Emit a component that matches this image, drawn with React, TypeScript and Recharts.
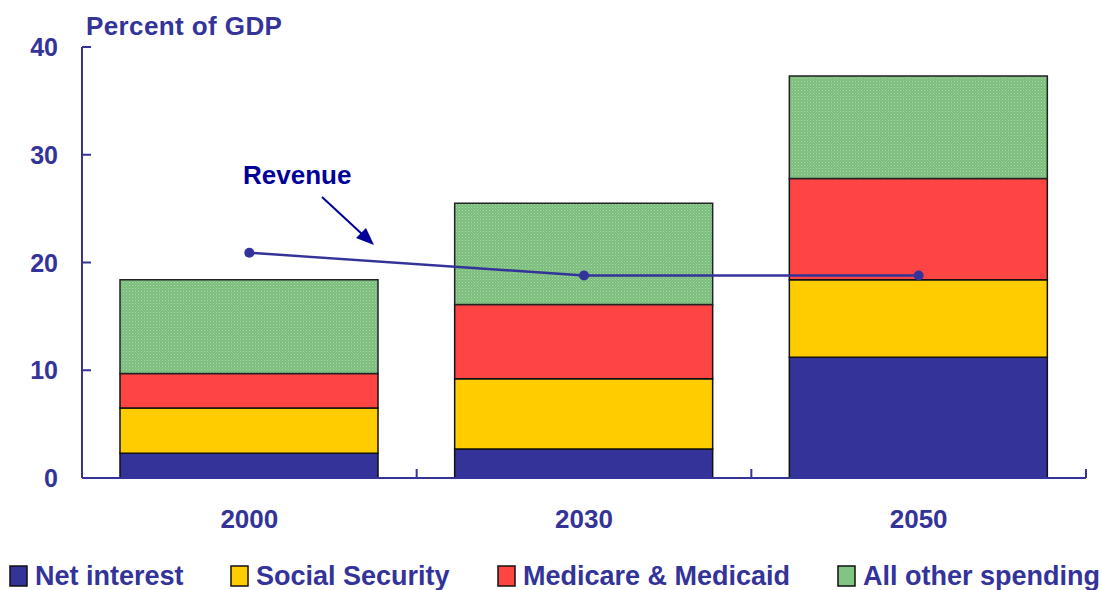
import { ComposedChart, Bar, Line, XAxis, YAxis } from "recharts"

const years = ["2000", "2030", "2050"]
const netInterest = [2.3, 2.7, 11.2]
const socialSecurity = [4.2, 6.5, 7.2]
const medicare = [3.2, 6.9, 9.4]
const allOther = [8.7, 9.4, 9.5]
const revenue = [20.9, 18.8, 18.8]
const yTicks = [0, 10, 20, 30, 40]

const seriesNames = ["Net interest", "Social Security", "Medicare & Medicaid", "All other spending"]

const data = years.map((year, i) => ({
  year,
  netInterest: netInterest[i],
  socialSecurity: socialSecurity[i],
  medicare: medicare[i],
  allOther: allOther[i],
  revenue: revenue[i],
}))

const NAVY = "#333399"
const FONT = "'Liberation Sans', Arial, sans-serif"

const legendItems = [
  { name: seriesNames[0], color: NAVY, x: 10 },
  { name: seriesNames[1], color: "#FFCC00", x: 231 },
  { name: seriesNames[2], color: "#FF4444", x: 498 },
  { name: seriesNames[3], color: "#82C482", x: 838 },
]

function XTick(props: any) {
  const { x, y, payload, width, visibleTicksCount } = props
  const band = width && visibleTicksCount ? width / visibleTicksCount : 334.7
  const edge = x + band / 2
  return (
    <g>
      <line x1={edge} x2={edge} y1={y} y2={y - 9} stroke={NAVY} strokeWidth={2} />
      <text x={x} y={y + 50} textAnchor="middle" fill={NAVY} fontFamily={FONT} fontWeight="bold" fontSize={26}>
        {payload.value}
      </text>
    </g>
  )
}

function YTick(props: any) {
  const { x, y, payload } = props
  return (
    <g>
      <line x1={x} x2={x + 9} y1={y} y2={y} stroke={NAVY} strokeWidth={2} />
      <text x={x - 24} y={y + 9} textAnchor="end" fill={NAVY} fontFamily={FONT} fontWeight="bold" fontSize={25}>
        {payload.value}
      </text>
    </g>
  )
}

export default function App() {
  return (
    <div style={{ position: "absolute", left: 0, top: 0, width: 1102, height: 590, background: "#fff" }}>
      <ComposedChart
        width={1102}
        height={590}
        data={data}
        margin={{ top: 47, right: 16, left: 0, bottom: 0 }}
      >
        <defs>
          <pattern id="stipple" width="3" height="3" patternUnits="userSpaceOnUse">
            <rect width="3" height="3" fill="#7CBE7C" />
            <rect x="0" y="0" width="1" height="1" fill="#A8D8A8" />
            <rect x="1.5" y="1.5" width="1" height="1" fill="#9ACB9A" />
          </pattern>
        </defs>
        <XAxis
          dataKey="year"
          height={112}
          axisLine={{ stroke: NAVY, strokeWidth: 2 }}
          tickLine={false}
          tickSize={0}
          tickMargin={0}
          tick={<XTick />}
          interval={0}
        />
        <YAxis
          width={82}
          domain={[0, 40]}
          ticks={yTicks}
          axisLine={{ stroke: NAVY, strokeWidth: 2 }}
          tickLine={false}
          tickSize={0}
          tickMargin={0}
          tick={<YTick />}
          interval={0}
        />
        <Bar dataKey="netInterest" stackId="s" barSize={258} fill={NAVY} stroke="#111" strokeWidth={1.5} isAnimationActive={false} />
        <Bar dataKey="socialSecurity" stackId="s" barSize={258} fill="#FFCC00" stroke="#111" strokeWidth={1.5} isAnimationActive={false} />
        <Bar dataKey="medicare" stackId="s" barSize={258} fill="#FF4444" stroke="#111" strokeWidth={1.5} isAnimationActive={false} />
        <Bar dataKey="allOther" stackId="s" barSize={258} fill="url(#stipple)" stroke="#222" strokeWidth={1.5} isAnimationActive={false} />
        <Line
          dataKey="revenue"
          stroke={NAVY}
          strokeWidth={2.5}
          dot={{ r: 5, fill: NAVY, stroke: NAVY, strokeWidth: 0 }}
          isAnimationActive={false}
        />
      </ComposedChart>
      <svg
        width={1102}
        height={590}
        style={{ position: "absolute", left: 0, top: 0, pointerEvents: "none" }}
        fontFamily={FONT}
        fontWeight="bold"
      >
        <text x={86} y={35} fill={NAVY} fontSize={26} letterSpacing={0.4}>Percent of GDP</text>
        <text x={243} y={184} fill="#000099" fontSize={26}>Revenue</text>
        <line x1={322} y1={197} x2={363} y2={235} stroke="#000099" strokeWidth={2} />
        <polygon points="374,245 356,238 366,228" fill="#000099" />
        {legendItems.map((item) => (
          <g key={item.name}>
            <rect x={item.x} y={566} width={17} height={20} fill={item.color} stroke="#111" strokeWidth={1.5} />
            <text x={item.x + 25} y={585} fill={NAVY} fontSize={27}>{item.name}</text>
          </g>
        ))}
      </svg>
    </div>
  )
}
